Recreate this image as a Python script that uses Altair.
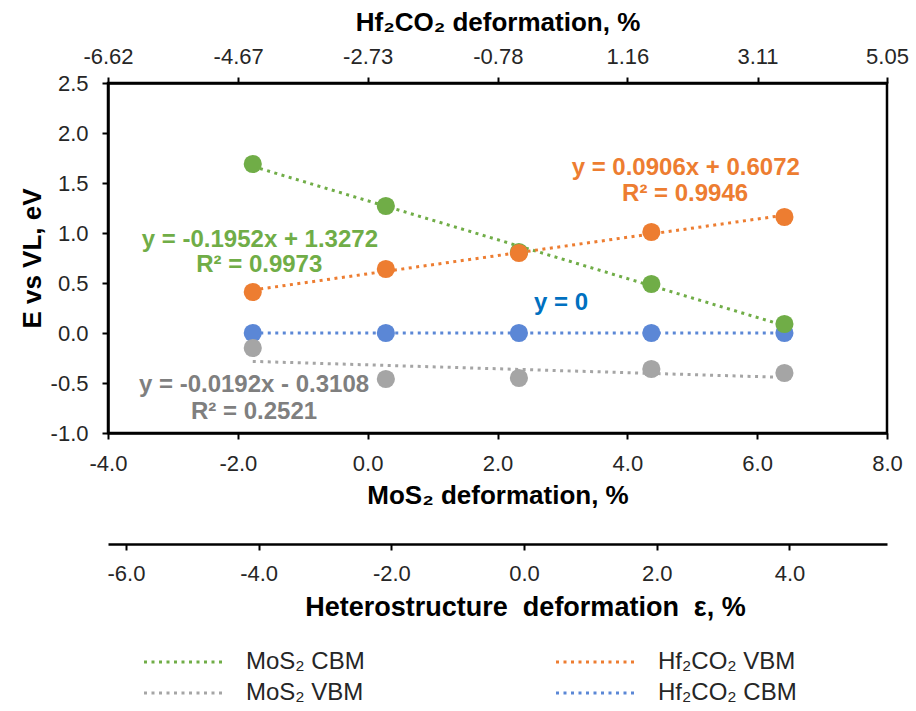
import altair as alt
import pandas as pd

# ---------------- data ----------------
# legend entries fill column by column: col 1 = MoS2 CBM, MoS2 VBM ; col 2 = Hf2CO2 VBM, Hf2CO2 CBM
legend_order = ["MoS₂ CBM", "MoS₂ VBM", "Hf₂CO₂ VBM", "Hf₂CO₂ CBM"]
legend_colors = ["#70AD47", "#A5A5A5", "#ED7D31", "#5B87D6"]
draw_order = ["Hf₂CO₂ CBM", "MoS₂ VBM", "MoS₂ CBM", "Hf₂CO₂ VBM"]

mos2_def = [-1.77, 0.28, 2.33, 4.37, 6.42]
hetero_def = [-4.0, -2.0, 0.0, 2.0, 4.0]
mos2_cbm = [1.69, 1.27, 0.81, 0.49, 0.09]
hf_vbm = [0.41, 0.64, 0.80, 1.01, 1.16]
mos2_vbm = [-0.15, -0.46, -0.45, -0.36, -0.40]
hf_cbm = [0.0, 0.0, 0.0, 0.0, 0.0]

mos2_ticks = [-4.0, -2.0, 0.0, 2.0, 4.0, 6.0, 8.0]
hf_ticks = [-6.62, -4.67, -2.73, -0.78, 1.16, 3.11, 5.05]
hetero_ticks = [-6.0, -4.0, -2.0, 0.0, 2.0, 4.0]
y_ticks = [-1.0, -0.5, 0.0, 0.5, 1.0, 1.5, 2.0, 2.5]

ann_text = ["y = -0.1952x + 1.3272", "R² = 0.9973",
            "y = 0.0906x + 0.6072", "R² = 0.9946",
            "y = 0",
            "y = -0.0192x - 0.3108", "R² = 0.2521"]
ann_x = [-1.66, -1.67, 4.90, 4.89, 2.98, -1.75, -1.75]
ann_y = [0.93, 0.68, 1.65, 1.39, 0.30, -0.52, -0.79]
ann_color = ["#70AD47", "#70AD47", "#ED7D31", "#ED7D31", "#0070C0", "#7F7F7F", "#7F7F7F"]

series_values = {
    "MoS₂ CBM": mos2_cbm,
    "Hf₂CO₂ VBM": hf_vbm,
    "MoS₂ VBM": mos2_vbm,
    "Hf₂CO₂ CBM": hf_cbm,
}

rows = []
for name in draw_order:
    for xm, xe, v in zip(mos2_def, hetero_def, series_values[name]):
        rows.append({"series": name, "mos2": xm, "eps": xe, "E": v})
df = pd.DataFrame(rows)

ann = pd.DataFrame({"text": ann_text, "ax": ann_x, "E": ann_y, "c": ann_color})
top_df = pd.DataFrame({"hf": hf_ticks, "E": [0.0] * len(hf_ticks)})

# ---------------- scales ----------------
FONT = "Liberation Sans"
HYPHEN = "replace(format(datum.value, '{f}'), '\u2212', '-')"
xs = alt.Scale(domain=[-4, 8], nice=False, zero=False)
ys = alt.Scale(domain=[-1.0, 2.5], nice=False, zero=False)
cs = alt.Scale(domain=legend_order, range=legend_colors)


def y_enc():
    return alt.Y("E:Q", scale=ys,
                 axis=alt.Axis(values=y_ticks, labelExpr=HYPHEN.format(f=".1f"),
                               title="E vs VL, eV", orient="left",
                               labelPadding=14, titlePadding=5))


trend = alt.Chart(df).transform_regression(
    "mos2", "E", groupby=["series"]
).mark_line(strokeDash=[3, 4.5], strokeWidth=3, strokeCap="butt").encode(
    x=alt.X("mos2:Q", scale=xs,
            axis=alt.Axis(values=mos2_ticks, labelExpr=HYPHEN.format(f=".1f"), orient="bottom",
                          title="MoS₂ deformation, %", labelPadding=14, titlePadding=8)),
    y=y_enc(),
    color=alt.Color(
        "series:N", scale=cs,
        legend=alt.Legend(
            title=None, orient="none", legendX=64, legendY=567,
            columns=2, columnPadding=185, rowPadding=7,
            symbolType="M-4,0H4", symbolSize=400, symbolStrokeWidth=3,
            symbolDash=[3, 4.5], labelOffset=50,
            labelFont=FONT, labelFontSize=24, labelColor="#262626",
            padding=0,
        ),
    ),
)

points = alt.Chart(df).mark_circle(size=330, opacity=1).encode(
    x=alt.X("mos2:Q", scale=xs, axis=None),
    y=y_enc(),
    color=alt.Color("series:N", scale=cs, legend=None),
)

top_axis = alt.Chart(top_df).mark_point(opacity=0).encode(
    x=alt.X("hf:Q", scale=alt.Scale(domain=[hf_ticks[0], hf_ticks[-1]], nice=False, zero=False),
            axis=alt.Axis(orient="top", values=hf_ticks, labelExpr=HYPHEN.format(f=".2f"),
                          title="Hf₂CO₂ deformation, %", labelPadding=9, titlePadding=10)),
    y=y_enc(),
)

hetero_axis = alt.Chart(df).mark_point(opacity=0).encode(
    x=alt.X("eps:Q", scale=alt.Scale(domain=[-6.27, 5.47], nice=False, zero=False),
            axis=alt.Axis(orient="bottom", offset=111, values=hetero_ticks,
                          labelExpr=HYPHEN.format(f=".1f"),
                          title="Heterostructure\u00a0 deformation\u00a0 ε, %", labelPadding=13,
                          titlePadding=10, titleX=417, titleAlign="center",
                          titleFontSize=27)),
    y=y_enc(),
)

labels = alt.Chart(ann).mark_text(font=FONT, fontSize=24, fontWeight="bold").encode(
    x=alt.X("ax:Q", scale=xs, axis=None),
    y=y_enc(),
    text="text:N",
    color=alt.Color("c:N", scale=None),
)

chart = alt.layer(trend, points, labels, top_axis, hetero_axis).resolve_scale(
    x="independent"
).properties(
    width=779, height=350,
    background="white",
    autosize=alt.AutoSizeParams(type="none"),
    padding={"left": 108, "top": 83, "right": 29, "bottom": 278},
).configure_view(
    stroke="black", strokeWidth=2.5
).configure_axis(
    grid=False, domainColor="black", domainWidth=2.5, tickColor="black",
    tickWidth=2, tickSize=6, labelFont=FONT, labelFontSize=22, labelColor="#262626",
    titleFont=FONT, titleFontSize=26, titleFontWeight="bold", titleColor="black",
    labelFlush=False, labelOverlap=False,
)

chart.save("out.html", embed_options={"renderer": "svg", "actions": False})
